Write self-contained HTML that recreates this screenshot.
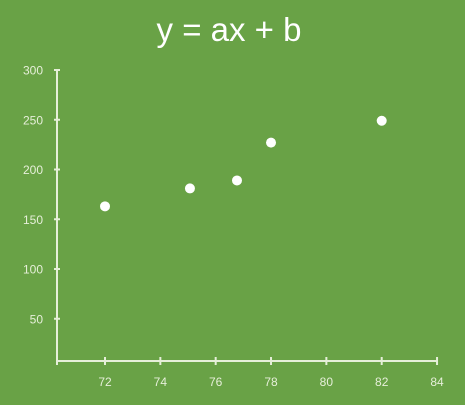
<!DOCTYPE html>
<html><head><meta charset="utf-8"><style>
html,body{margin:0;padding:0;background:#69a246;}
svg{display:block;font-family:"Liberation Sans",sans-serif;}
</style></head><body>
<svg id="chart" width="465" height="405" viewBox="0 0 465 405">
<rect width="465" height="405" fill="#69a246"/>
<text x="229" y="41" text-anchor="middle" font-size="33" fill="#ffffff">y = ax + b</text>
<g id="axes"></g><g id="points"></g>
</svg>
<script>
const xTicks=[72,74,76,78,80,82,84];
const yTicks=[50,100,150,200,250,300];
const xVals=[72,75.07,76.77,78,82];
const yVals=[163,181,189,227,249];
const ns="http://www.w3.org/2000/svg";
function xs(v){return 105+(v-72)*27.67;}
function ys(v){return 368.5-v*0.995;}
const axisY=361, axisX=57, lc="#e6efd9";
const ax=document.getElementById('axes'), pt=document.getElementById('points');
function mk(t,a,p){const e=document.createElementNS(ns,t);for(const k in a)e.setAttribute(k,a[k]);p.appendChild(e);return e;}
let l=mk('line',{x1:axisX,y1:ys(300),x2:axisX,y2:axisY,stroke:lc,'stroke-width':2},ax);


l=mk('line',{x1:axisX,y1:axisY,x2:xs(84),y2:axisY,stroke:lc,'stroke-width':2},ax);


yTicks.forEach(v=>{
 const t=mk('line',{x1:axisX-3,y1:ys(v),x2:axisX+3,y2:ys(v),stroke:lc,'stroke-width':2},ax);
 
 
 const tx=mk('text',{x:43,y:ys(v)+4.5,'text-anchor':'end','font-size':12,fill:lc},ax);
 tx.textContent=v;
 
 
});
xTicks.forEach(v=>{
 const t=mk('line',{x1:xs(v),y1:axisY-4,x2:xs(v),y2:axisY+4,stroke:lc,'stroke-width':2},ax);
 
 
 const tx=mk('text',{x:xs(v),y:386,'text-anchor':'middle','font-size':12,fill:lc},ax);
 tx.textContent=v;
 
 
});
mk('line',{x1:axisX,y1:axisY-4,x2:axisX,y2:axisY+4,stroke:lc,'stroke-width':2},ax);
xVals.forEach((v,i)=>{
 const c=mk('circle',{cx:xs(v),cy:ys(yVals[i]),r:5,fill:'#ffffff'},pt);
 
 
});
</script>
</body></html>
